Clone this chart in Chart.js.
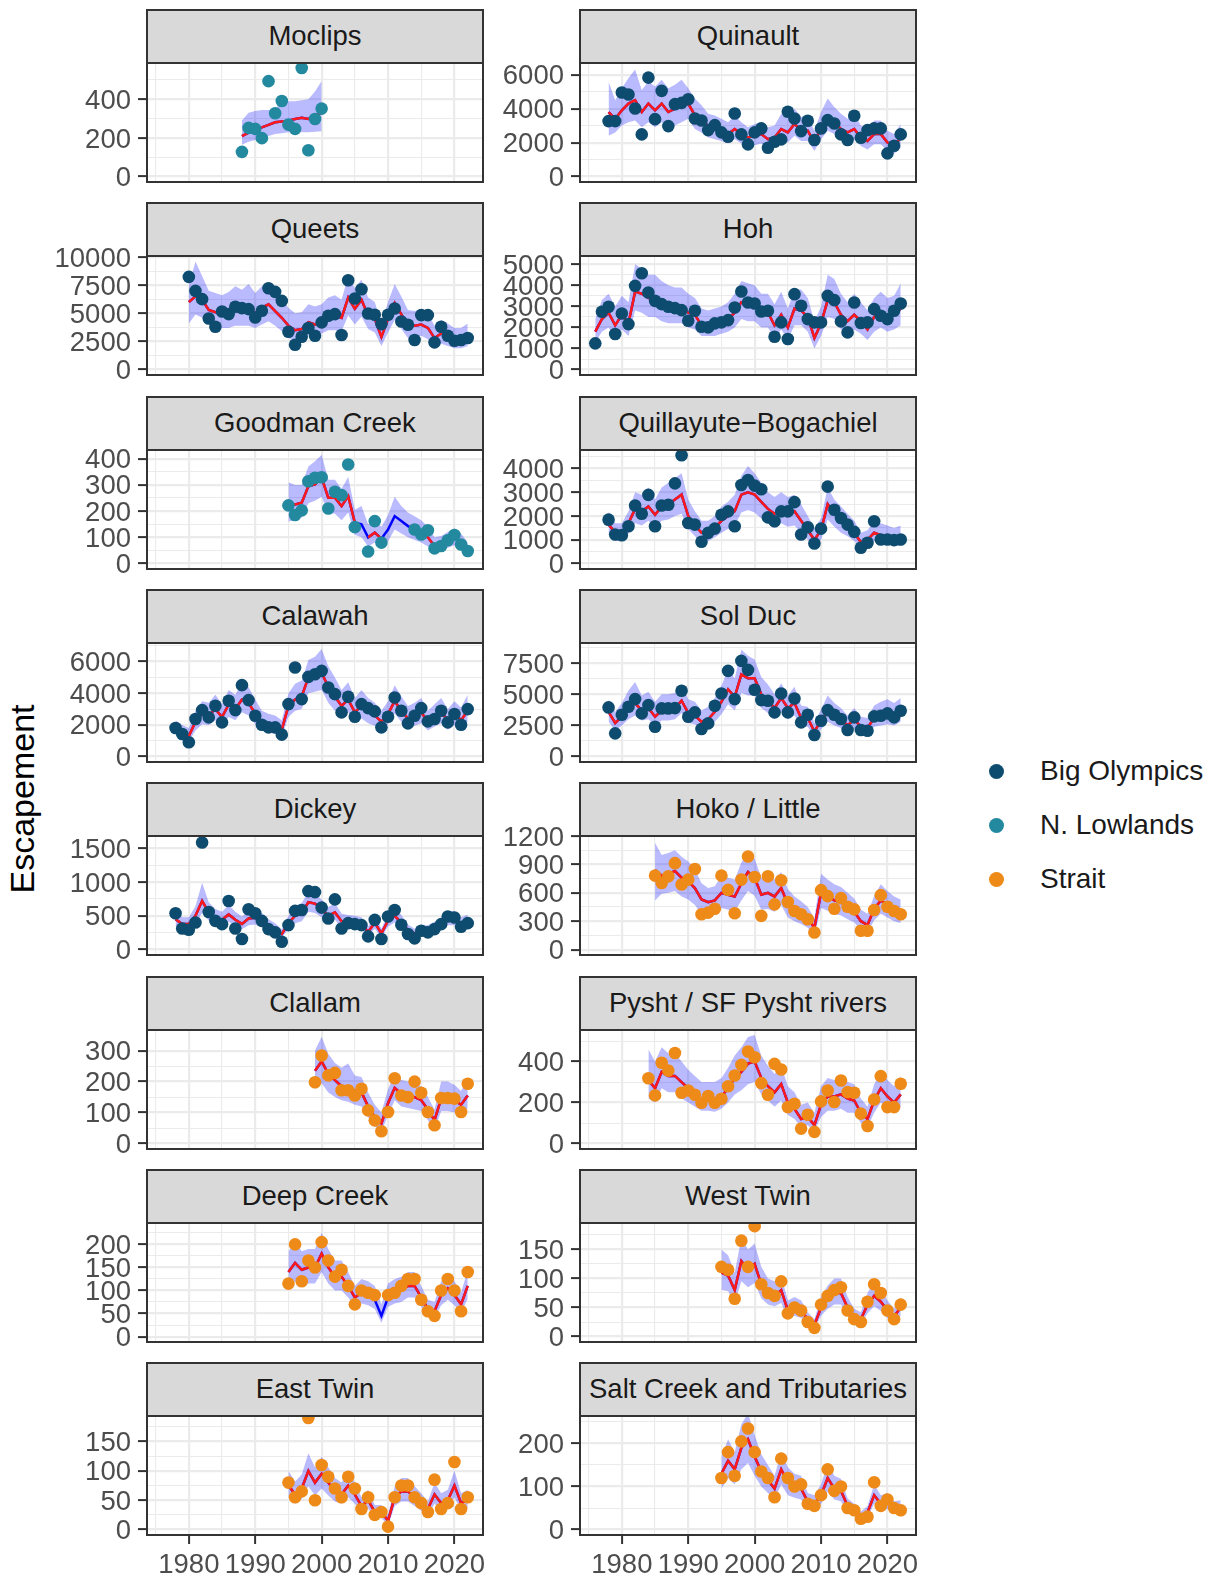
<!DOCTYPE html>
<html>
<head>
<meta charset="utf-8">
<script src="https://cdn.jsdelivr.net/npm/chart.js@4.4.0/dist/chart.umd.min.js"></script>
<style>
  body { margin: 0; background: #fff; width: 1218px; height: 1576px; position: relative; overflow: hidden;
         font-family: "Liberation Sans", Arial, Helvetica, sans-serif; }
  canvas { position: absolute; }
  .strip { position: absolute; box-sizing: border-box; background: #d9d9d9; border: 2px solid #333;
           color: #1a1a1a; font-size: 27.5px; text-align: center; white-space: nowrap; z-index: 2; }
  .ytitle { position: absolute; left: 22px; top: 799px; transform: translate(-50%, -50%) rotate(-90deg);
            font-size: 34px; color: #000; white-space: nowrap; }
  .key { position: absolute; font-size: 28px; color: #1a1a1a; white-space: nowrap; }
  .key span { position: absolute; width: 15px; height: 15px; border-radius: 50%; }
</style>
</head>
<body>
<div class="ytitle">Escapement</div>
<script>
// ---- data ----
const regionNames = ['Big Olympics', 'N. Lowlands', 'Strait'];
const regionColors = ['#0e4c6f', '#22899e', '#ee8a18'];

const panelNames = ['Moclips', 'Quinault', 'Queets', 'Hoh', 'Goodman Creek', 'Quillayute\u2212Bogachiel',
  'Calawah', 'Sol Duc', 'Dickey', 'Hoko / Little', 'Clallam', 'Pysht / SF Pysht rivers',
  'Deep Creek', 'West Twin', 'East Twin', 'Salt Creek and Tributaries'];
const panelRegion = [1, 0, 0, 0, 1, 0, 0, 0, 0, 2, 2, 2, 2, 2, 2, 2];
const firstYear = [1988, 1978, 1980, 1976, 1995, 1978, 1978, 1978, 1978, 1985, 1999, 1984, 1995, 1995, 1995, 1995];

const yLow = [-28, -318, -480, -257, -20.6, -228, -342, -434, -80, -57, -17.5, -26.4, -11.7, -9.3, -9.2, -12.6];
const yHigh = [588, 6685, 10087, 5392, 433, 4778, 7174, 9123, 1680, 1200, 366.5, 554, 246.4, 195.4, 193.4, 264];
const yBreaks = [[0, 200, 400], [0, 2000, 4000, 6000], [0, 2500, 5000, 7500, 10000], [0, 1000, 2000, 3000, 4000, 5000],
  [0, 100, 200, 300, 400], [0, 1000, 2000, 3000, 4000], [0, 2000, 4000, 6000], [0, 2500, 5000, 7500],
  [0, 500, 1000, 1500], [0, 300, 600, 900, 1200], [0, 100, 200, 300], [0, 200, 400],
  [0, 50, 100, 150, 200], [0, 50, 100, 150], [0, 50, 100, 150], [0, 100, 200]];
const yMinorBreaks = [[100, 300, 500], [1000, 3000, 5000], [1250, 3750, 6250, 8750], [500, 1500, 2500, 3500, 4500],
  [50, 150, 250, 350], [500, 1500, 2500, 3500, 4500], [1000, 3000, 5000, 7000], [1250, 3750, 6250, 8750],
  [250, 750, 1250], [150, 450, 750, 1050], [50, 150, 250], [100, 300, 500],
  [25, 75, 125, 175, 225], [25, 75, 125, 175], [25, 75, 125, 175], [50, 150, 250]];
const xBreaks = [1980, 1990, 2000, 2010, 2020];
const xMinorBreaks = [1975, 1985, 1995, 2005, 2015];

// observed escapement (null = no survey that year)
const obsMoclips = [128, 252, 247, 199, 494, 328, 391, 269, 247, 562, 136, 298, 352];
const obsQuinault = [3265, 3265, 4946, 4829, 4008, 2483, 5826, 3382, 5044, 2972, 4262, 4340, 4555, 3421, 3304, 2737, 3030, 2600, 2346, 3715, 2483, 1896, 2600, 2835, 1700, 2053, 2190, 3812, 3421, 2678, 3284, 2150, 2835, 3324, 3128, 2483, 2150, 3578, 2287, 2737, 2835, 2835, 1368, 1818, 2483];
const obsQueets = [8230, 6990, 6254, 4543, 3805, 5162, 4927, 5575, 5457, 5369, 4631, 5221, 7227, 6903, 6106, 3363, 2212, 2920, 3687, 3009, 4189, 4779, 4927, 3068, 7935, 6313, 7139, 4985, 4867, 4041, 4867, 5428, 4277, 3982, 2625, 4838, 4838, 2419, 3805, 3009, 2566, 2625, 2802];
const obsHoh = [1246, 2744, 2980, 1687, 2665, 2160, 3974, 4573, 3659, 3264, 3107, 2980, 2917, 2823, 2318, 2791, 2034, 2003, 2192, 2239, 2350, 2949, 3706, 3186, 3138, 2760, 2791, 1561, 2239, 1451, 3580, 3028, 2397, 2239, 2239, 3501, 3296, 2287, 1766, 3186, 2208, 2239, 2870, 2555, 2397, 2791, 3138];
const obsGoodman = [222, 185, 203, 314, 327, 329, 210, 274, 261, 378, 139, null, 46, 162, 80, null, null, null, null, 130, 111, 127, 58, 67, 89, 109, 73, 48];
const obsQuillayute = [1847, 1222, 1195, 1570, 2445, 2097, 2889, 1570, 2445, 2472, 3375, 4556, 1708, 1639, 917, 1292, 1472, 2056, 2195, 1570, 3306, 3514, 3278, 3125, 1945, 1778, 2195, 2195, 2584, 1222, 1528, 847, 1472, 3236, 2264, 1917, 1639, 1333, 667, 875, 1778, 1014, 1014, 986, 1014];
const obsCalawah = [1804, 1427, 902, 2371, 2937, 2476, 3210, 2161, 3525, 2937, 4511, 3567, 2581, 2014, 1846, 1846, 1385, 3315, 5623, 3630, 5035, 5203, 5413, 4364, 3944, 2790, 3776, 2518, 3315, 3063, 2853, 1846, 2518, 3734, 2895, 2098, 2581, 3063, 2224, 2371, 2895, 2161, 2685, 2014, 3000];
const obsSolDuc = [3949, 1868, 3362, 4002, 4616, 3468, 4135, 2401, 3869, 3869, 3895, 5283, 3202, 3548, 2214, 2668, 4082, 5069, 6883, 4616, 7684, 6963, 5363, 4536, 4482, 3548, 5069, 3548, 4669, 2748, 3362, 1734, 2881, 3735, 3362, 3015, 2134, 3148, 2134, 2081, 3228, 3282, 3468, 3148, 3682];
const obsDickey = [538, 313, 293, 401, 1583, 557, 425, 376, 718, 313, 156, 596, 538, 425, 303, 254, 117, 362, 572, 586, 865, 850, 621, 459, 743, 313, 391, 376, 362, 195, 440, 156, 489, 586, 367, 230, 166, 279, 254, 303, 376, 489, 474, 337, 391];
const obsHoko = [781, 704, 774, 913, 687, 739, 851, 373, 391, 432, 781, 631, 384, 739, 983, 767, 356, 774, 478, 732, 502, 408, 373, 321, 181, 628, 565, 432, 544, 453, 425, 199, 199, 418, 575, 453, 408, 373];
const obsClallam = [198, 284, 220, 228, 172, 172, 155, 177, 107, 75, 40, 102, 211, 155, 150, 200, 164, 102, 59, 147, 147, 145, 102, 193];
const obsPysht = [319, 235, 394, 356, 442, 248, 259, 238, 199, 232, 199, 219, 280, 332, 384, 449, 421, 295, 238, 389, 361, 178, 194, 73, 141, 57, 206, 259, 203, 308, 251, 248, 146, 86, 215, 329, 178, 178, 292];
const obsDeep = [115, 200, 120, 165, 150, 205, 165, 130, 145, 110, 70, 100, 95, 90, null, 90, 95, 110, 125, 125, 80, 55, 45, 100, 125, 100, 55, 140];
const obsWestTwin = [120, 115, 65, 165, 120, 190, 90, 75, 70, 95, 40, 50, 45, 25, 15, 55, 70, 80, 85, 45, 30, 25, 60, 90, 75, 45, 30, 55];
const obsEastTwin = [80, 55, 65, 190, 50, 110, 90, 70, 55, 90, 70, 35, 55, 25, 30, 5, 55, 75, 75, 55, 45, 30, 85, 35, 45, 115, 35, 55];
const obsSalt = [120, 180, 125, 205, 235, 180, 135, 120, 75, 165, 120, 100, 105, 60, 55, 80, 140, 90, 100, 50, 45, 25, 30, 110, 55, 70, 50, 45];

// model estimate
const estMoclips = [209, 228, 245, 255, 268, 281, 285, 289, 298, 305, 298, 318, 330];
const estQuinault = [3800, 3400, 3900, 4300, 4500, 3800, 4300, 3900, 4300, 3800, 4000, 4200, 4300, 3600, 3300, 3000, 2900, 2700, 2500, 2800, 2500, 2300, 2400, 2500, 2200, 2300, 2800, 2600, 3100, 2700, 2700, 2000, 2900, 3400, 3200, 2800, 2600, 2800, 2300, 2100, 2500, 2500, 2000, 1800, 2300];
const estQueets = [6000, 6500, 6200, 5300, 5100, 5000, 5100, 5300, 5200, 5300, 5000, 5500, 5800, 5200, 4600, 3900, 3500, 3600, 4200, 4000, 4300, 4700, 4800, 4600, 6400, 5400, 6200, 4800, 4500, 2900, 4500, 5900, 4900, 3900, 3900, 4000, 3700, 2800, 3200, 3000, 2700, 2700, 2900];
const estHoh = [1800, 2400, 2700, 2100, 2600, 2200, 3700, 3600, 3400, 3400, 3100, 3000, 2900, 2900, 2700, 2600, 2100, 2100, 2200, 2300, 2400, 2700, 3200, 3100, 3100, 2700, 2700, 2100, 2600, 2000, 2900, 2800, 2500, 1500, 2200, 3300, 3200, 2600, 2300, 2600, 2300, 1900, 2500, 2700, 2500, 2600, 2900];
const estGoodman = [225, 225, 232, 295, 302, 327, 251, 251, 219, 257, 156, 150, 100, 118, 95, 130, 181, 162, 143, 130, 118, 100, 67, 73, 86, 100, 80, 54];
const estQuillayute = [1650, 1300, 1300, 1700, 2300, 2200, 2400, 2050, 2400, 2500, 2700, 2900, 2000, 1600, 1300, 1300, 1500, 1800, 2000, 2200, 2900, 3000, 2900, 2600, 2300, 2100, 2300, 2100, 2200, 1800, 1400, 1000, 1400, 2500, 2100, 1800, 1600, 1300, 900, 1000, 1300, 1200, 1100, 1050, 1050];
const estCalawah = [1800, 1500, 1300, 2200, 2700, 2600, 3000, 2500, 3300, 3000, 3600, 3400, 2700, 2200, 2000, 1900, 1700, 3200, 3600, 3800, 5000, 5100, 5300, 4400, 3800, 3200, 3600, 2800, 3200, 2800, 2600, 2200, 2700, 3500, 2900, 2400, 2600, 2800, 2200, 2500, 2800, 2300, 2700, 2300, 2900];
const estSolDuc = [3600, 2700, 3200, 3900, 4300, 3700, 3900, 3200, 3700, 3800, 3900, 4500, 3500, 3300, 2800, 3000, 3600, 4400, 5400, 4800, 6600, 6300, 6300, 5000, 4500, 3900, 4700, 3900, 4300, 3100, 3100, 2000, 2900, 3600, 3300, 3000, 2500, 3000, 2400, 2300, 3100, 3200, 3400, 3200, 3600];
const estDickey = [450, 380, 380, 500, 720, 550, 470, 440, 520, 440, 380, 460, 470, 420, 350, 300, 230, 390, 500, 540, 700, 680, 600, 500, 550, 420, 400, 390, 380, 260, 400, 240, 430, 500, 400, 290, 240, 280, 280, 320, 370, 450, 450, 380, 400];
const estHoko = [840, 780, 800, 830, 760, 720, 650, 530, 500, 520, 600, 580, 560, 700, 820, 760, 580, 600, 560, 650, 480, 420, 380, 330, 230, 600, 560, 520, 500, 450, 400, 300, 260, 430, 520, 470, 420, 390];
const estClallam = [235, 265, 225, 205, 185, 180, 170, 165, 120, 85, 65, 130, 180, 160, 155, 150, 140, 110, 75, 145, 145, 140, 125, 155];
const estPysht = [310, 270, 350, 330, 330, 300, 270, 240, 215, 215, 210, 230, 270, 320, 350, 390, 400, 320, 280, 250, 290, 200, 170, 120, 130, 90, 190, 230, 230, 240, 220, 210, 150, 120, 210, 270, 230, 200, 240];
const estDeep = [140, 160, 145, 150, 150, 180, 150, 130, 130, 110, 85, 95, 90, 80, 45, 85, 95, 100, 110, 110, 85, 60, 55, 90, 105, 90, 70, 110];
const estWestTwin = [110, 105, 80, 130, 115, 125, 90, 75, 70, 80, 45, 50, 45, 30, 20, 50, 65, 75, 75, 50, 35, 30, 55, 70, 60, 45, 35, 50];
const estEastTwin = [75, 60, 70, 100, 80, 95, 80, 65, 60, 75, 60, 40, 50, 30, 30, 15, 55, 65, 65, 55, 45, 35, 60, 45, 50, 75, 45, 50];
const estSalt = [130, 160, 140, 190, 210, 170, 135, 115, 95, 140, 110, 100, 95, 65, 60, 80, 120, 95, 90, 55, 45, 30, 40, 80, 60, 65, 50, 50];

// lower edge of the uncertainty band
const loMoclips = [165, 180, 190, 200, 210, 220, 225, 230, 230, 230, 230, 232, 235];
const loQuinault = [2400, 2600, 3000, 3200, 3300, 2900, 3200, 2900, 3200, 2900, 3000, 3200, 3400, 2800, 2600, 2300, 2200, 2100, 1950, 2200, 1950, 1800, 1850, 1950, 1700, 1800, 2200, 2000, 2400, 2100, 2100, 1500, 2200, 2700, 2500, 2200, 2000, 2200, 1800, 1600, 1900, 1900, 1500, 1350, 1700];
const loQueets = [4100, 4900, 4600, 4000, 3800, 3700, 3700, 3900, 3900, 3900, 3700, 4000, 4300, 3900, 3400, 2800, 2500, 2600, 3100, 2900, 3200, 3500, 3500, 3400, 4800, 4000, 4700, 3600, 3300, 2100, 3300, 4400, 3600, 2800, 2800, 3000, 2700, 2000, 2300, 2100, 1900, 1900, 2100];
const loHoh = [1300, 1800, 2000, 1500, 1900, 1600, 2800, 2700, 2500, 2500, 2300, 2200, 2200, 2200, 2000, 1900, 1600, 1600, 1600, 1700, 1800, 2000, 2400, 2300, 2300, 2000, 2000, 1500, 1900, 1400, 2100, 2100, 1800, 1000, 1600, 2500, 2400, 1900, 1700, 1900, 1700, 1400, 1800, 2000, 1800, 1900, 2100];
const loGoodman = [160, 165, 175, 230, 240, 255, 195, 190, 165, 195, 110, 100, 65, 80, 60, 85, 130, 115, 100, 90, 80, 65, 45, 50, 60, 70, 55, 38];
const loQuillayute = [1200, 950, 950, 1250, 1700, 1600, 1800, 1500, 1800, 1850, 2000, 2100, 1450, 1150, 950, 950, 1100, 1300, 1450, 1600, 2150, 2250, 2150, 1900, 1700, 1500, 1700, 1550, 1600, 1300, 1000, 700, 1000, 1850, 1550, 1300, 1150, 950, 650, 700, 950, 850, 800, 750, 750];
const loCalawah = [1400, 1100, 950, 1650, 2050, 2000, 2300, 1900, 2500, 2300, 2800, 2600, 2050, 1650, 1500, 1450, 1250, 2500, 2900, 3000, 4000, 4100, 4200, 3400, 2900, 2500, 2800, 2100, 2400, 2100, 1950, 1650, 2050, 2700, 2200, 1800, 1950, 2100, 1650, 1900, 2100, 1700, 2000, 1700, 2200];
const loSolDuc = [2800, 2100, 2500, 3000, 3300, 2900, 3000, 2500, 2900, 2900, 3000, 3500, 2700, 2600, 2200, 2300, 2800, 3400, 4200, 3700, 5100, 4900, 4900, 3900, 3500, 3000, 3600, 3000, 3300, 2400, 2400, 1500, 2200, 2800, 2500, 2300, 1900, 2300, 1800, 1700, 2400, 2500, 2600, 2500, 2800];
const loDickey = [350, 300, 300, 390, 540, 430, 370, 350, 410, 350, 300, 360, 370, 330, 270, 230, 180, 300, 390, 420, 560, 540, 480, 400, 440, 330, 320, 310, 300, 200, 310, 180, 340, 400, 320, 230, 190, 220, 220, 250, 290, 360, 360, 300, 310];
const loHoko = [520, 590, 600, 620, 560, 530, 470, 380, 360, 380, 440, 420, 400, 520, 620, 570, 420, 430, 400, 470, 340, 300, 270, 230, 150, 440, 410, 380, 360, 320, 290, 200, 180, 310, 380, 340, 300, 280];
const loClallam = [175, 195, 165, 150, 140, 135, 125, 120, 85, 55, 40, 90, 140, 120, 115, 110, 105, 75, 45, 105, 105, 100, 90, 115];
const loPysht = [220, 200, 270, 250, 250, 220, 200, 180, 160, 160, 155, 170, 200, 240, 260, 290, 300, 240, 210, 180, 210, 140, 120, 80, 90, 60, 130, 160, 160, 170, 150, 150, 100, 80, 150, 200, 170, 150, 180];
const loDeep = [105, 120, 110, 115, 115, 140, 115, 100, 100, 85, 65, 72, 68, 60, 30, 65, 72, 75, 85, 85, 65, 45, 40, 68, 80, 68, 52, 82];
const loWestTwin = [80, 78, 58, 95, 85, 92, 66, 55, 52, 58, 32, 36, 32, 21, 13, 36, 48, 55, 55, 36, 25, 21, 40, 52, 44, 32, 25, 36];
const loEastTwin = [55, 44, 52, 74, 58, 70, 58, 48, 44, 55, 44, 28, 36, 20, 20, 7, 40, 48, 48, 40, 32, 25, 44, 32, 36, 55, 32, 36];
const loSalt = [95, 120, 105, 140, 155, 125, 100, 85, 70, 105, 80, 74, 70, 48, 44, 60, 88, 70, 66, 40, 33, 22, 29, 60, 44, 48, 37, 36];

// upper edge of the uncertainty band
const hiMoclips = [290, 330, 340, 345, 345, 350, 385, 390, 390, 395, 400, 440, 495];
const hiQuinault = [5600, 4500, 5200, 5800, 6300, 5100, 5600, 5300, 5700, 5200, 5400, 5700, 5200, 4600, 4200, 3700, 3600, 3400, 3200, 3600, 3200, 2900, 3100, 3200, 2900, 3000, 3700, 3400, 4000, 3500, 3500, 2700, 3800, 4600, 4100, 3700, 3400, 3700, 3000, 2800, 3300, 3300, 2700, 2500, 3100];
const hiQueets = [7500, 9600, 8300, 7000, 6800, 6600, 6900, 7400, 7100, 7600, 6800, 7400, 7700, 7000, 6300, 5500, 5000, 5100, 5800, 5600, 5800, 6400, 6600, 6200, 8300, 7200, 8000, 6400, 6000, 4100, 6000, 7600, 6500, 5300, 5200, 5400, 5000, 3900, 4400, 4100, 3700, 3700, 4100];
const hiHoh = [2400, 3300, 3600, 3000, 3500, 3200, 5000, 4800, 4500, 4500, 4200, 4000, 3900, 3900, 3600, 3400, 2900, 2800, 2900, 3000, 3200, 3600, 4200, 4100, 4000, 3600, 3600, 3100, 3700, 2900, 3800, 3800, 3400, 2300, 3000, 4500, 4300, 3600, 3200, 3600, 3200, 2800, 3400, 3700, 3400, 3500, 4100];
const hiGoodman = [310, 300, 300, 370, 390, 415, 320, 320, 285, 330, 205, 220, 150, 165, 140, 185, 255, 220, 195, 180, 165, 140, 100, 105, 120, 135, 115, 80];
const hiQuillayute = [2200, 1700, 1700, 2200, 3000, 2900, 3200, 2700, 3200, 3400, 3600, 3800, 2700, 2200, 1800, 1800, 2000, 2400, 2600, 2900, 3700, 4100, 3800, 3400, 3000, 2800, 3000, 2800, 2900, 2500, 2000, 1500, 1900, 3200, 2700, 2400, 2100, 1800, 1300, 1400, 1800, 1700, 1600, 1500, 1600];
const hiCalawah = [2300, 2000, 1800, 2900, 3500, 3400, 3900, 3300, 4200, 3900, 4700, 4400, 3600, 2900, 2700, 2600, 2300, 4000, 4600, 4800, 6100, 6300, 6800, 5700, 5000, 4200, 4700, 3700, 4200, 3700, 3400, 2900, 3500, 4500, 3800, 3200, 3400, 3700, 2900, 3300, 3700, 3000, 3500, 3100, 3900];
const hiSolDuc = [4600, 3600, 4300, 5300, 6000, 4900, 5200, 4400, 5000, 5000, 5100, 5800, 4600, 4400, 3700, 4000, 4700, 5700, 7000, 6300, 8600, 8100, 7800, 6400, 5800, 5000, 5900, 4900, 5600, 4100, 4000, 2700, 3800, 4900, 4300, 3900, 3300, 3900, 3200, 3100, 4100, 4400, 4600, 4300, 4700];
const hiDickey = [560, 480, 480, 640, 990, 700, 600, 560, 660, 560, 490, 580, 600, 540, 450, 390, 300, 500, 640, 690, 850, 830, 740, 630, 690, 530, 510, 500, 480, 340, 510, 310, 540, 640, 510, 370, 310, 360, 360, 410, 470, 570, 570, 480, 520];
const hiHoko = [1130, 1000, 1020, 1050, 980, 930, 850, 700, 650, 670, 780, 760, 740, 920, 1030, 960, 760, 780, 740, 820, 640, 560, 510, 450, 330, 800, 740, 690, 660, 600, 540, 420, 380, 570, 690, 620, 560, 530];
const hiClallam = [300, 345, 290, 260, 245, 258, 220, 215, 165, 125, 100, 175, 225, 205, 200, 195, 185, 150, 110, 200, 200, 190, 170, 210];
const hiPysht = [460, 400, 470, 440, 440, 400, 360, 330, 300, 300, 300, 320, 370, 430, 470, 520, 530, 430, 380, 340, 380, 280, 250, 190, 200, 150, 280, 320, 310, 320, 300, 290, 220, 180, 290, 350, 310, 280, 330];
const hiDeep = [185, 205, 185, 190, 190, 225, 190, 165, 165, 140, 110, 125, 120, 110, 70, 115, 125, 130, 140, 140, 110, 80, 75, 120, 135, 120, 95, 145];
const hiWestTwin = [150, 140, 110, 170, 150, 160, 120, 100, 95, 105, 62, 68, 62, 42, 30, 68, 88, 100, 100, 68, 48, 42, 75, 95, 82, 62, 48, 68];
const hiEastTwin = [100, 82, 94, 130, 106, 124, 106, 88, 80, 100, 80, 55, 68, 42, 42, 25, 74, 88, 88, 74, 62, 48, 80, 62, 68, 100, 62, 68];
const hiSalt = [170, 210, 180, 245, 270, 220, 175, 150, 125, 180, 145, 130, 125, 85, 80, 105, 155, 125, 118, 72, 60, 42, 55, 105, 80, 85, 66, 68];

const observed = [obsMoclips, obsQuinault, obsQueets, obsHoh, obsGoodman, obsQuillayute, obsCalawah, obsSolDuc,
  obsDickey, obsHoko, obsClallam, obsPysht, obsDeep, obsWestTwin, obsEastTwin, obsSalt];
const estimate = [estMoclips, estQuinault, estQueets, estHoh, estGoodman, estQuillayute, estCalawah, estSolDuc,
  estDickey, estHoko, estClallam, estPysht, estDeep, estWestTwin, estEastTwin, estSalt];
const lower = [loMoclips, loQuinault, loQueets, loHoh, loGoodman, loQuillayute, loCalawah, loSolDuc,
  loDickey, loHoko, loClallam, loPysht, loDeep, loWestTwin, loEastTwin, loSalt];
const upper = [hiMoclips, hiQuinault, hiQueets, hiHoh, hiGoodman, hiQuillayute, hiCalawah, hiSolDuc,
  hiDickey, hiHoko, hiClallam, hiPysht, hiDeep, hiWestTwin, hiEastTwin, hiSalt];

// ---- layout ----
const colLeft = [147, 580];
const plotW = 336, plotH = 119;
const stripH = 53;
const axisW = 110, pad = 30, xAxisH = 50;
const FONT = '"Liberation Sans", Arial, Helvetica, sans-serif';

function rowTop(r) { return 63 + Math.round(193.3 * r); }

function toPoints(start, values) {
  return values.map((v, i) => ({ x: start + i, y: v }));
}
// red line only joins years that have an observation
function observedFit(start, est, obs) {
  return est.map((v, i) => ({ x: start + i, y: obs[i] === null ? null : v }));
}

const panelFrame = {
  id: 'panelFrame',
  afterDraw(chart) {
    const { ctx, chartArea: a } = chart;
    ctx.save();
    ctx.strokeStyle = '#333333';
    ctx.lineWidth = 2;
    ctx.strokeRect(a.left, a.top, a.right - a.left, a.bottom - a.top);
    ctx.restore();
  }
};

function gridFor(majors) {
  const isMajor = c => c.tick && majors.includes(c.tick.value);
  return {
    color: '#ebebeb',
    lineWidth: c => isMajor(c) ? 2.2 : 1.1,
    tickColor: c => isMajor(c) ? '#333333' : 'rgba(0,0,0,0)',
    tickWidth: 2,
    tickLength: 9
  };
}

panelNames.forEach((name, i) => {
  const row = Math.floor(i / 2), col = i % 2;
  const bottom = row === 7;
  const top = rowTop(row);
  const left = colLeft[col];

  const strip = document.createElement('div');
  strip.className = 'strip';
  strip.textContent = name;
  strip.style.left = (left - 1) + 'px';
  strip.style.top = (top - stripH - 1) + 'px';
  strip.style.width = (plotW + 2) + 'px';
  strip.style.height = (stripH + 2) + 'px';
  strip.style.lineHeight = (stripH - 3) + 'px';
  document.body.appendChild(strip);

  const cv = document.createElement('canvas');
  const cw = axisW + plotW + pad;
  const ch = pad + plotH + (bottom ? xAxisH : pad);
  cv.width = cw; cv.height = ch;
  cv.style.left = (left - axisW) + 'px';
  cv.style.top = (top - pad) + 'px';
  cv.style.width = cw + 'px'; cv.style.height = ch + 'px';
  document.body.appendChild(cv);

  const start = firstYear[i];
  const color = regionColors[panelRegion[i]];
  const yMaj = yBreaks[i];
  const yTicks = yMaj.concat(yMinorBreaks[i]).sort((a, b) => a - b);
  const xTicks = xBreaks.concat(xMinorBreaks).sort((a, b) => a - b);

  new Chart(cv, {
    type: 'line',
    data: {
      datasets: [
        { data: toPoints(start, lower[i]), borderColor: 'rgba(0,0,0,0)', borderWidth: 0, pointRadius: 0, fill: false, order: 4, clip: 0 },
        { data: toPoints(start, upper[i]), borderColor: 'rgba(0,0,0,0)', borderWidth: 0, pointRadius: 0,
          fill: '-1', backgroundColor: 'rgba(0,0,255,0.27)', order: 3, clip: 0 },
        { data: toPoints(start, estimate[i]), borderColor: '#0000ff', borderWidth: 2.5, pointRadius: 0, fill: false, order: 2, clip: 0 },
        { data: observedFit(start, estimate[i], observed[i]), borderColor: '#ff1a1a', borderWidth: 2.5, pointRadius: 0,
          fill: false, spanGaps: false, order: 1, clip: 0 },
        { data: toPoints(start, observed[i]), showLine: false, pointRadius: 6.3, pointBorderWidth: 0,
          pointBackgroundColor: color, borderColor: color, fill: false, order: 0, clip: 0 }
      ]
    },
    options: {
      responsive: false,
      animation: false,
      devicePixelRatio: 1,
      events: [],
      elements: { line: { tension: 0 } },
      layout: { padding: { left: 0, top: pad, right: pad, bottom: bottom ? 0 : pad } },
      plugins: { legend: { display: false }, tooltip: { enabled: false } },
      scales: {
        x: {
          type: 'linear', min: 1973.7, max: 2024.3,
          afterBuildTicks: s => { s.ticks = xTicks.map(v => ({ value: v })); },
          afterFit: s => { s.height = bottom ? xAxisH : 0; },
          ticks: {
            display: bottom, autoSkip: false, maxRotation: 0, padding: 5, color: '#4d4d4d',
            font: { family: FONT, size: 27.5 },
            callback: v => xBreaks.includes(v) ? String(v) : ''
          },
          grid: Object.assign(gridFor(xBreaks), { drawTicks: bottom }),
          border: { display: false }
        },
        y: {
          type: 'linear', min: yLow[i], max: yHigh[i],
          afterBuildTicks: s => { s.ticks = yTicks.map(v => ({ value: v })); },
          afterFit: s => { s.width = axisW; },
          ticks: {
            autoSkip: false, padding: 7, labelOffset: 2, color: '#4d4d4d',
            font: { family: FONT, size: 27.5 },
            callback: v => yMaj.includes(v) ? String(v) : ''
          },
          grid: gridFor(yMaj),
          border: { display: false }
        }
      }
    },
    plugins: [panelFrame]
  });
});

// legend
const keyTops = [771, 825, 879];
regionNames.forEach((name, k) => {
  const item = document.createElement('div');
  item.className = 'key';
  item.style.left = '1040px';
  item.style.top = (keyTops[k] - 17) + 'px';
  item.style.lineHeight = '34px';
  item.textContent = name;
  const dot = document.createElement('span');
  dot.style.left = '-51px';
  dot.style.top = '9.5px';
  dot.style.background = regionColors[k];
  item.appendChild(dot);
  document.body.appendChild(item);
});
</script>
</body>
</html>
